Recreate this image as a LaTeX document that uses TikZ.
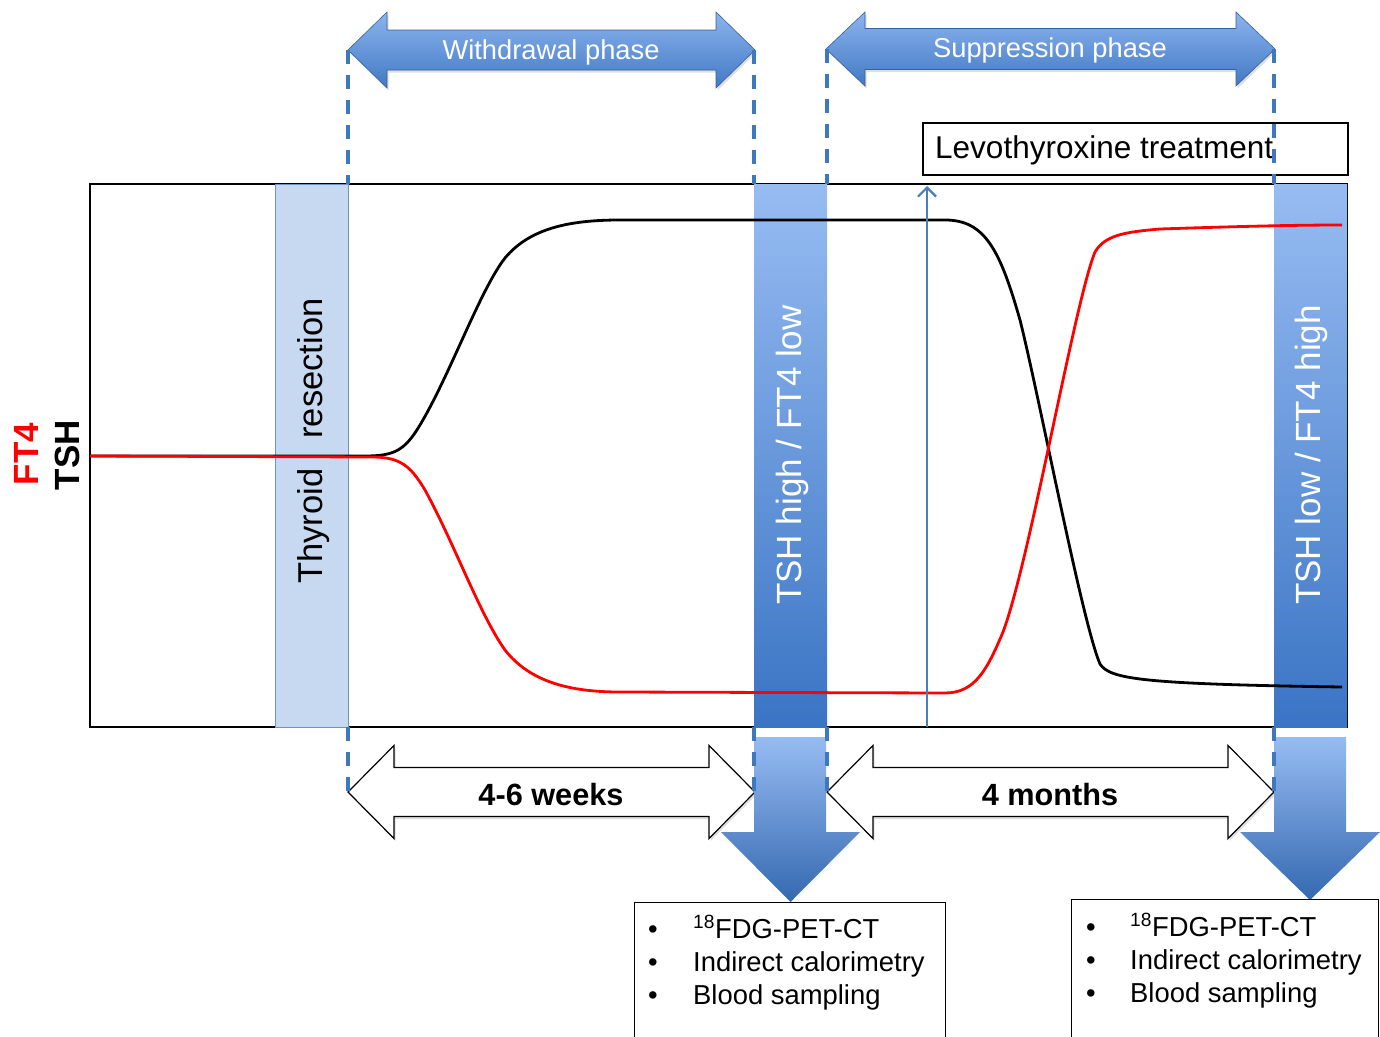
\documentclass[tikz,border=0pt]{standalone}
\usepackage{fontspec}
\setmainfont{Liberation Sans}
\usetikzlibrary{arrows.meta,shadows}
\definecolor{barlight}{HTML}{C6D9F1}
\definecolor{barline}{HTML}{6B94C8}
\definecolor{bluetop}{HTML}{97BCF2}
\definecolor{bluebot}{HTML}{3A74C4}
\definecolor{dashblue}{HTML}{3E78BE}
\definecolor{arrtop}{HTML}{8CB4EE}
\definecolor{arrbot}{HTML}{4279C4}
\definecolor{levoblue}{HTML}{4A7EBB}
\newcommand\mydblarr[6]{% x1 x2 yc shafthalf headhalf headlen
  (#1,#3) -- (#1+#6,#3-#5) -- (#1+#6,#3-#4) -- (#2-#6,#3-#4) -- (#2-#6,#3-#5) -- (#2,#3)
  -- (#2-#6,#3+#5) -- (#2-#6,#3+#4) -- (#1+#6,#3+#4) -- (#1+#6,#3+#5) -- cycle}
\newcommand\mydownarr[7]{% xl xr ytop yhead hl hr ytip (tip x = mid of hl hr)
  (#1,#3) -- (#2,#3) -- (#2,#4) -- (#6,#4) -- ({(#5+#6)/2},#7) -- (#5,#4) -- (#1,#4) -- cycle}
\begin{document}
\begin{tikzpicture}[x=1pt,y=-1pt,
  phasearrow/.style={top color=arrtop,bottom color=arrbot,draw=arrbot!80!black,line width=0.6,
     drop shadow={shadow xshift=1.5pt,shadow yshift=-2.5pt,opacity=0.25}},
  timearrow/.style={fill=white,draw=black,line width=1.2,
     drop shadow={shadow xshift=1.5pt,shadow yshift=-2.5pt,opacity=0.25}},
  downarrow/.style={top color=bluetop,bottom color=bluebot!90!black},
  gradbar/.style={top color=bluetop,bottom color=bluebot},
  guide/.style={dashblue,line width=3.2,dash pattern=on 14pt off 11pt},
  infobox/.style={draw=black,line width=1.3,fill=white,inner sep=0,anchor=north west},
  infotext/.style={font=\fontsize{27.4}{33}\selectfont,inner sep=0,anchor=base west,align=left},
  bartext/.style={rotate=90,font=\fontsize{35}{40}\selectfont},
  curve/.style={line width=2.8,line join=round}]
\useasboundingbox (0,0) rectangle (1380,1036);
% main plot box
\draw[line width=1.5] (90,184) rectangle (1347,727);
% bars
\fill[barlight,draw=barline,line width=1] (275,184) rectangle (348,727);
\fill[gradbar] (754,184) rectangle (827,727);
\fill[gradbar] (1274,184) rectangle (1347,727);
% curves
\draw[curve,black] (90,456) -- (365,456) .. controls (395,456) and (405,450) .. (420,425)
   .. controls (450,375) and (480,290) .. (505,258)
   .. controls (530,228) and (570,220) .. (620,220) -- (945,220)
   .. controls (985,220) and (1000,250) .. (1020,320)
   .. controls (1040,400) and (1082,622) .. (1100,664)
   .. controls (1110,679) and (1140,684) .. (1342,687);
\draw[curve,red] (90,456) -- (375,457) .. controls (400,458) and (410,465) .. (425,490)
   .. controls (455,545) and (480,615) .. (505,650)
   .. controls (530,682) and (570,692) .. (620,692) -- (945,693)
   .. controls (975,693) and (987,670) .. (1003,632)
   .. controls (1030,560) and (1075,300) .. (1095,252)
   .. controls (1105,235) and (1125,232) .. (1160,229)
   .. controls (1250,226) and (1300,225) .. (1342,225);
% levothyroxine box and arrow
\node[draw=black,line width=1.5,minimum width=425,minimum height=52,anchor=north west,inner sep=0,fill=white] (levobox) at (922,122) {};
\node[font=\fontsize{31.5}{36}\selectfont,anchor=west,inner sep=0] (levotext) at (935,150) {Levothyroxine treatment};
\coordinate (levostart) at (927,727);
\coordinate (levoend) at (927,186);
\draw[levoblue,line width=2.2,-{Straight Barb[length=9pt,width=18pt,line width=2.2pt]}] (levostart) -- (levoend);
% top phase arrows
\path[phasearrow] \mydblarr{348}{755}{50}{20}{38}{39};
\path[phasearrow] \mydblarr{826}{1275}{49}{20.5}{37}{39};
\node[white,font=\fontsize{27.3}{32}\selectfont] (wtext) at (551,52) {Withdrawal phase};
\node[white,font=\fontsize{27.3}{32}\selectfont] (stext) at (1050,50) {Suppression phase};
% bottom time arrows
\path[timearrow] \mydblarr{348}{755}{792}{24.5}{46.5}{46};
\path[timearrow] \mydblarr{827}{1274}{792}{24.5}{46.5}{46};
\node[font=\bfseries\fontsize{30.7}{36}\selectfont] (weeks) at (551,795) {4-6 weeks};
\node[font=\bfseries\fontsize{30.7}{36}\selectfont] (months) at (1050,795) {4 months};
% big down arrows
\path[downarrow] \mydownarr{754}{826}{737}{832}{721}{860}{902};
\path[downarrow] \mydownarr{1274}{1346}{737}{832}{1240}{1380}{900};
% dashed guides
\draw[guide] (348,50) -- (348,184);
\draw[guide] (348,727) -- (348,792);
\draw[guide] (754,50) -- (754,184);
\draw[guide] (754,727) -- (754,800);
\draw[guide] (827,49) -- (827,184);
\draw[guide] (827,727) -- (827,800);
\draw[guide] (1274,49) -- (1274,184);
\draw[guide] (1274,727) -- (1274,795);
% bar labels
\node[bartext,font=\fontsize{34.5}{40}\selectfont] (thyroid) at (314,441) {Thyroid\hspace{30pt}resection};
\node[bartext,white] (highlow) at (792,455) {TSH high / FT4 low};
\node[bartext,white] (lowhigh) at (1311,455) {TSH low / FT4 high};
% axis labels
\node[rotate=90,red,font=\bfseries\fontsize{35}{40}\selectfont] (ftlabel) at (26,454) {FT4};
\node[rotate=90,black,font=\bfseries\fontsize{35}{40}\selectfont] (tshlabel) at (67,455) {TSH};
% info boxes
\node[infobox,minimum width=311,minimum height=140] (box1) at (634,902) {};
\node[infotext] (box1text) at (648,938) {\begin{tabular}[t]{@{}p{45pt}@{}l@{}}
\textbullet & \textsuperscript{18}FDG-PET-CT\\
\textbullet & Indirect calorimetry\\
\textbullet & Blood sampling
\end{tabular}};
\node[infobox,minimum width=307,minimum height=142] (box2) at (1071,899) {};
\node[infotext] (box2text) at (1086,936) {\begin{tabular}[t]{@{}p{44pt}@{}l@{}}
\textbullet & \textsuperscript{18}FDG-PET-CT\\
\textbullet & Indirect calorimetry\\
\textbullet & Blood sampling
\end{tabular}};
\end{tikzpicture}
\end{document}
